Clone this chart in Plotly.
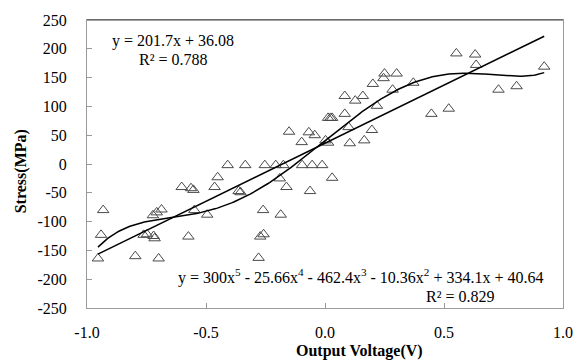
import numpy as np
import plotly.graph_objects as go

# Data
voltage = [-0.954, -0.941, -0.932, -0.797, -0.762, -0.748, -0.723, -0.720, -0.716, -0.707,
           -0.699, -0.687, -0.602, -0.574, -0.563, -0.553, -0.549, -0.495, -0.464, -0.451,
           -0.409, -0.363, -0.355, -0.335, -0.279, -0.272, -0.260, -0.258, -0.253, -0.207,
           -0.190, -0.186, -0.175, -0.162, -0.151, -0.098, -0.096, -0.068, -0.063, -0.054,
           -0.043, -0.012, 0.002, 0.013, 0.013, 0.023, 0.030, 0.030, 0.083, 0.083,
           0.099, 0.104, 0.127, 0.159, 0.165, 0.197, 0.201, 0.218, 0.246, 0.250,
           0.284, 0.301, 0.371, 0.447, 0.520, 0.552, 0.631, 0.635, 0.729, 0.805, 0.921]
stress = [-164, -123, -80, -160, -123, -122, -89, -125, -129, -84,
          -164, -79, -40, -126, -42, -45, -80, -88, -40, -23,
          -2, -47, -49, -2, -163, -126, -80, -122, -2, -2,
          -25, -88, -2, -40, 56, 38, -2, 55, -47, -2,
          50, -2, 41, 37, 80, 80, 80, -24, 118, 87,
          64, 36, 110, 118, 41, 59, 139, 101, 149, 157,
          129, 157, 141, 87, 96, 192, 190, 172, 129, 135, 169]

lin_coef = [201.7, 36.08]                                  # y = 201.7x + 36.08
poly_coef = [300.0, -25.66, -462.4, -10.36, 334.1, 40.64]  # 5th order

x_ticks = [-1.0, -0.5, 0.0, 0.5, 1.0]
y_ticks = [-250, -200, -150, -100, -50, 0, 50, 100, 150, 200, 250]

FONT = "Liberation Serif"

xs = np.linspace(min(voltage), max(voltage), 300)
lin_y = np.polyval(lin_coef, xs)
poly_y = np.polyval(poly_coef, xs)

fig = go.Figure()
fig.add_trace(go.Scatter(x=voltage, y=stress, mode="markers",
                         marker=dict(symbol="triangle-up-open", size=10, color="#4a4a4a",
                                     line=dict(width=1, color="#4a4a4a")),
                         showlegend=False))
fig.add_trace(go.Scatter(x=xs, y=lin_y, mode="lines",
                         line=dict(color="black", width=1.5), showlegend=False))
fig.add_trace(go.Scatter(x=xs, y=poly_y, mode="lines",
                         line=dict(color="black", width=1.5), showlegend=False))

tick_font = dict(family=FONT, size=16, color="black")
axis_common = dict(showgrid=False, zeroline=False, showline=True, linecolor="#9a9a9a",
                   linewidth=1, mirror=True, ticks="inside", ticklen=5, tickcolor="#9a9a9a")

fig.update_layout(
    xaxis=dict(range=[-1, 1], tickmode="array", tickvals=x_ticks,
               ticktext=[f"{v:.1f}" for v in x_ticks], ticklabelstandoff=10,
               tickfont=tick_font, **axis_common),
    yaxis=dict(range=[-250, 250], tickmode="array", tickvals=y_ticks,
               ticktext=[str(v) for v in y_ticks], ticklabelstandoff=16,
               tickfont=tick_font, **axis_common),
)

W, H = 585, 363
L, R, T, B = 87, 19, 14, 55
pw, ph = W - L - R, H - T - B

def px(xp):
    return (xp - L) / pw

def py(yp):
    return (H - B - yp) / ph

ann_font = dict(family=FONT, size=16, color="black")
annotations = [
    dict(x=px(110), y=py(35), text="y = 201.7x + 36.08", xanchor="left", yanchor="middle"),
    dict(x=px(137), y=py(54), text="R² = 0.788", xanchor="left", yanchor="middle"),
    dict(x=px(177), y=py(276), xanchor="left", yanchor="middle",
         text="y = 300x<sup>5</sup> - 25.66x<sup>4</sup> - 462.4x<sup>3</sup> - 10.36x<sup>2</sup> + 334.1x + 40.64"),
    dict(x=px(426), y=py(296), text="R² = 0.829", xanchor="left", yanchor="middle"),
    dict(x=px(361), y=py(352), text="<b>Output Voltage(V)</b>", xanchor="center", yanchor="middle"),
    dict(x=px(20), y=py(168), text="<b>Stress(MPa)</b>", textangle=-90,
         xanchor="center", yanchor="middle"),
]
for a in annotations:
    a.update(xref="paper", yref="paper", showarrow=False, font=ann_font)

fig.update_layout(
    width=W, height=H,
    font=dict(family=FONT, size=16, color="black"),
    margin=dict(l=L, r=R, t=T, b=B),
    paper_bgcolor="white", plot_bgcolor="white",
    annotations=annotations,
    shapes=[dict(type="line", xref="paper", yref="paper", x0=0, x1=1, y0=1, y1=1,
                 line=dict(color="#404040", width=1.2))],
)

fig.write_html("out.html")
